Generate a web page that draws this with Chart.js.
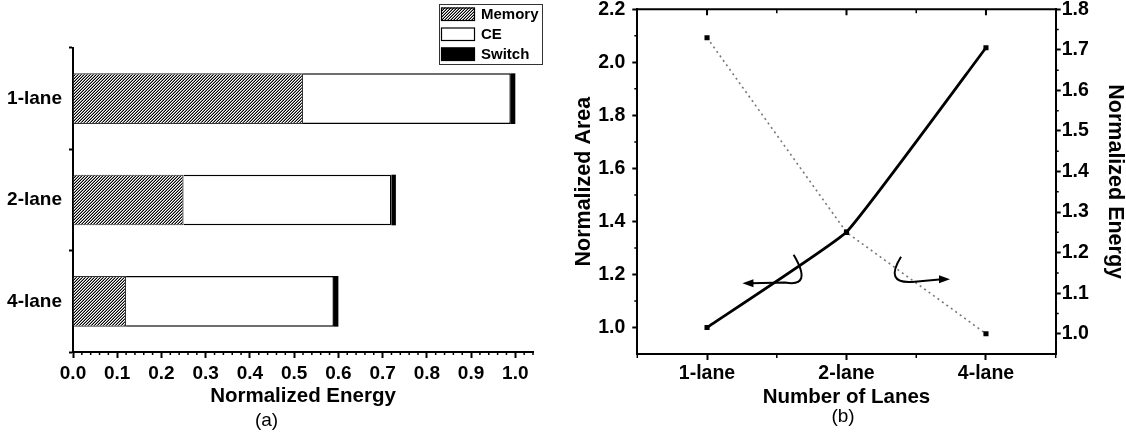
<!DOCTYPE html>
<html>
<head>
<meta charset="utf-8">
<script src="https://cdn.jsdelivr.net/npm/chart.js@4/dist/chart.umd.min.js"></script>
<style>
  html, body { margin: 0; padding: 0; background: #fff; }
  body { width: 1126px; height: 436px; position: relative; overflow: hidden; }
  canvas { position: absolute; top: 0; }
  #left { left: 0; }
  #right { left: 560px; }
</style>
</head>
<body>
<canvas id="left" width="560" height="436"></canvas>
<canvas id="right" width="566" height="436"></canvas>
<script>
// (a) energy breakdown per lane configuration
const lanes = ["1-lane", "2-lane", "4-lane"];
const memoryEnergy = [0.52, 0.25, 0.12];
const ceEnergy = [0.47, 0.47, 0.47];
const switchEnergy = [0.01, 0.01, 0.01];
const energyTicks = [0, 0.1, 0.2, 0.3, 0.4, 0.5, 0.6, 0.7, 0.8, 0.9, 1.0];

// (b) area and energy vs number of lanes
const areaValues = [1.0, 1.36, 2.055];
const energyValues = [1.73, 1.25, 1.0];
const areaTicks = [1.0, 1.2, 1.4, 1.6, 1.8, 2.0, 2.2];
const normEnergyTicks = [1.0, 1.1, 1.2, 1.3, 1.4, 1.5, 1.6, 1.7, 1.8];

// curved arrows in (lane index, normalized area) units
const leftArrow = [[0.621, 1.274], [0.76, 1.15], [0.559, 1.170], [0.254, 1.167]];
const rightArrow = [[1.391, 1.267], [1.27, 1.165], [1.470, 1.172], [1.742, 1.182]];

const FONT = "'Liberation Sans', Arial, sans-serif";
Chart.defaults.font.family = FONT;
Chart.defaults.color = "#000";

function steps(from, to, step, skip) {
    const out = [];
    for (let v = from; v <= to + 1e-9; v += step) {
        const r = Math.round(v * 1000) / 1000;
        if (!skip.some(s => Math.abs(s - r) < 1e-6)) out.push(r);
    }
    return out;
}

function makeHatch(ctx) {
    const c = document.createElement("canvas");
    c.width = 3; c.height = 3;
    const g = c.getContext("2d");
    g.fillStyle = "#fff";
    g.fillRect(0, 0, 3, 3);
    for (let y = 0; y < 3; y++) {
        for (let x = 0; x < 3; x++) {
            const k = (x + y) % 3;
            if (k === 2) { g.fillStyle = "#000"; g.fillRect(x, y, 1, 1); }
            else if (k === 1) { g.fillStyle = "#8a8a8a"; g.fillRect(x, y, 1, 1); }
        }
    }
    return ctx.createPattern(c, "repeat");
}

// small ticks that chart.js can't draw with a different length
const extraTicks = {
    id: "extraTicks",
    afterDraw(chart, args, opts) {
        const ctx = chart.ctx;
        const area = chart.chartArea;
        ctx.save();
        ctx.strokeStyle = "#000";
        if (opts.topFrame) {
            ctx.lineWidth = 2;
            ctx.beginPath();
            ctx.moveTo(area.left - 1, area.top);
            ctx.lineTo(area.right + 1, area.top);
            ctx.stroke();
        }
        (opts.sets || []).forEach(set => {
            const scale = chart.scales[set.axis];
            ctx.lineWidth = set.width;
            ctx.beginPath();
            set.values.forEach(v => {
                const p = scale.getPixelForValue(v);
                if (set.edge === "bottom") { ctx.moveTo(p, area.bottom); ctx.lineTo(p, area.bottom + set.len); }
                else if (set.edge === "top") { ctx.moveTo(p, area.top); ctx.lineTo(p, area.top + set.len); }
                else if (set.edge === "left") { ctx.moveTo(area.left, p); ctx.lineTo(area.left - set.len, p); }
                else { ctx.moveTo(area.right, p); ctx.lineTo(area.right + set.len, p); }
            });
            ctx.stroke();
        });
        ctx.restore();
    }
};

const boxLegend = {
    id: "boxLegend",
    afterDraw(chart, args, opts) {
        const ctx = chart.ctx;
        ctx.save();
        ctx.lineWidth = 1;
        ctx.strokeStyle = "#333";
        ctx.strokeRect(opts.x + 0.5, opts.y + 0.5, opts.w, opts.h);
        chart.data.datasets.forEach((ds, i) => {
            const top = opts.y + opts.rowTop + i * opts.rowGap;
            ctx.fillStyle = ds.backgroundColor;
            ctx.fillRect(opts.x + 2, top, opts.swatch, opts.rowH);
            ctx.strokeStyle = "#000";
            ctx.lineWidth = 1.2;
            ctx.strokeRect(opts.x + 2.5, top + 0.5, opts.swatch - 1, opts.rowH - 1);
            ctx.fillStyle = "#000";
            ctx.font = "bold 15px " + FONT;
            ctx.textBaseline = "middle";
            ctx.fillText(ds.label, opts.x + opts.swatch + 8, top + opts.rowH / 2 + 1);
        });
        ctx.restore();
    }
};

const curvedArrows = {
    id: "curvedArrows",
    afterDatasetsDraw(chart, args, opts) {
        const ctx = chart.ctx;
        const xs = chart.scales.x, ys = chart.scales.y;
        const px = p => [xs.getPixelForValue(p[0]), ys.getPixelForValue(p[1])];
        ctx.save();
        ctx.strokeStyle = "#000";
        ctx.fillStyle = "#000";
        ctx.lineWidth = 2;
        opts.arrows.forEach(a => {
            const [s, c, e, t] = a.map(px);
            const dir = Math.sign(t[0] - e[0]);
            ctx.beginPath();
            ctx.moveTo(s[0], s[1]);
            ctx.quadraticCurveTo(c[0], c[1], e[0], e[1]);
            ctx.lineTo(t[0] - dir * 8, t[1]);
            ctx.stroke();
            ctx.beginPath();
            ctx.moveTo(t[0], t[1]);
            ctx.lineTo(t[0] - dir * 11, t[1] - 4);
            ctx.lineTo(t[0] - dir * 11, t[1] + 4);
            ctx.closePath();
            ctx.fill();
        });
        ctx.restore();
    }
};

const leftCtx = document.getElementById("left").getContext("2d");
const hatch = makeHatch(leftCtx);

new Chart(leftCtx, {
    type: "bar",
    data: {
        labels: lanes,
        datasets: [
            { label: "Memory", data: memoryEnergy, backgroundColor: hatch, borderColor: "#333", borderWidth: 1.2 },
            { label: "CE", data: ceEnergy, backgroundColor: "#fff", borderColor: "#000", borderWidth: 1.5 },
            { label: "Switch", data: switchEnergy, backgroundColor: "#000", borderColor: "#000", borderWidth: 0 }
        ]
    },
    options: {
        indexAxis: "y",
        responsive: false,
        animation: false,
        events: [],
        layout: { padding: { top: 48, right: 27, left: 0, bottom: 0 } },
        datasets: { bar: { barPercentage: 0.5, categoryPercentage: 1 } },
        plugins: {
            legend: { display: false },
            tooltip: { enabled: false },
            title: {
                display: true, position: "bottom", text: "(a)", color: "#000",
                font: { size: 19, weight: "normal", lineHeight: 1 },
                padding: { top: 0, bottom: 5.5 }
            },
            boxLegend: { x: 439, y: 4, w: 103, h: 60, swatch: 34, rowH: 13.5, rowTop: 3.5, rowGap: 20 },
            extraTicks: {
                sets: [{ axis: "x", edge: "bottom", len: 3, width: 1.5, values: steps(0, 1.04, 0.02, energyTicks) }]
            }
        },
        scales: {
            x: {
                type: "linear",
                stacked: true,
                min: 0,
                max: 1.04,
                afterBuildTicks: s => { s.ticks = energyTicks.map(v => ({ value: v })); },
                afterFit: s => { s.height = 59.5; s.paddingLeft = 0; s.paddingRight = 0; },
                ticks: {
                    autoSkip: false, maxRotation: 0, padding: 4,
                    font: { size: 19, weight: "bold" },
                    callback: v => v.toFixed(1)
                },
                grid: { drawOnChartArea: false, tickLength: 6, tickWidth: 2, color: "#000" },
                border: { color: "#000", width: 2 },
                title: {
                    display: true, text: "Normalized Energy",
                    font: { size: 20.5, weight: "bold", lineHeight: 1 },
                    padding: { top: 0, bottom: 4.5 }
                }
            },
            y: {
                stacked: true,
                afterFit: s => { s.width = 73; s.paddingTop = 0; s.paddingBottom = 0; },
                ticks: { padding: 7, font: { size: 19, weight: "bold" } },
                grid: { offset: true, drawOnChartArea: false, tickLength: 4, tickWidth: 2, color: "#000" },
                border: { color: "#000", width: 2 }
            }
        }
    },
    plugins: [boxLegend, extraTicks]
});

new Chart(document.getElementById("right"), {
    type: "line",
    data: {
        labels: lanes,
        datasets: [
            {
                label: "Normalized Area", data: areaValues, yAxisID: "y",
                borderColor: "#000", borderWidth: 2.8, tension: 0.1,
                pointStyle: "rect", pointRadius: 3.6, pointBackgroundColor: "#000", pointBorderWidth: 0
            },
            {
                label: "Normalized Energy", data: energyValues, yAxisID: "y1",
                borderColor: "#777", borderWidth: 1.6, borderDash: [2, 3.5], tension: 0,
                pointStyle: "rect", pointRadius: 3.6, pointBackgroundColor: "#000", pointBorderWidth: 0
            }
        ]
    },
    options: {
        responsive: false,
        animation: false,
        events: [],
        layout: { padding: { top: 9.3, left: 0, right: 0, bottom: 0 } },
        plugins: {
            legend: { display: false },
            tooltip: { enabled: false },
            title: {
                display: true, position: "bottom", text: "(b)", color: "#000",
                font: { size: 19, weight: "normal", lineHeight: 1 },
                padding: { top: 0, bottom: 9.5 }
            },
            curvedArrows: { arrows: [leftArrow, rightArrow] },
            extraTicks: {
                topFrame: true,
                sets: [
                    { axis: "x", edge: "top", len: 6, width: 2, values: [0, 1, 2] },
                    { axis: "x", edge: "top", len: 4, width: 1.5, values: [0.5, 1.5] },
                    { axis: "x", edge: "bottom", len: 4, width: 1.5, values: [-0.5, 0.5, 1.5, 2.5] },
                    { axis: "y", edge: "left", len: 3, width: 1.5, values: steps(1.1, 2.1, 0.2, []) },
                    { axis: "y1", edge: "right", len: 3, width: 1.5, values: steps(1.05, 1.75, 0.1, []) }
                ]
            }
        },
        scales: {
            x: {
                type: "category",
                offset: true,
                afterFit: s => { s.height = 53.5; s.paddingLeft = 0; s.paddingRight = 0; },
                ticks: { padding: 2, maxRotation: 0, font: { size: 19.5, weight: "bold" } },
                grid: { offset: false, drawOnChartArea: false, tickLength: 6, tickWidth: 2, color: "#000" },
                border: { color: "#000", width: 2 },
                title: {
                    display: true, text: "Number of Lanes",
                    font: { size: 20.5, weight: "bold", lineHeight: 1 },
                    padding: { top: 0, bottom: 0 }
                }
            },
            y: {
                position: "left",
                min: 0.9,
                max: 2.2,
                afterBuildTicks: s => { s.ticks = areaTicks.map(v => ({ value: v })); },
                afterFit: s => { s.width = 77.3; s.paddingTop = 0; s.paddingBottom = 0; },
                ticks: { padding: 7, font: { size: 19.5, weight: "bold" }, callback: v => v.toFixed(1) },
                grid: { drawOnChartArea: false, tickLength: 5, tickWidth: 2, color: "#000" },
                border: { color: "#000", width: 2 },
                title: {
                    display: true, text: "Normalized Area",
                    font: { size: 21.5, weight: "bold", lineHeight: 1 },
                    padding: { top: 13, bottom: 0 }
                }
            },
            y1: {
                position: "right",
                min: 0.95,
                max: 1.8,
                afterBuildTicks: s => { s.ticks = normEnergyTicks.map(v => ({ value: v })); },
                afterFit: s => { s.width = 70.3; s.paddingTop = 0; s.paddingBottom = 0; },
                ticks: { padding: 1, font: { size: 19.5, weight: "bold" }, callback: v => v.toFixed(1) },
                grid: { drawOnChartArea: false, tickLength: 5, tickWidth: 2, color: "#000" },
                border: { color: "#000", width: 2 },
                title: {
                    display: true, text: "Normalized Energy",
                    font: { size: 21.5, weight: "bold", lineHeight: 1 },
                    padding: { top: 0, bottom: 0 }
                }
            }
        }
    },
    plugins: [curvedArrows, extraTicks]
});
</script>
</body>
</html>
